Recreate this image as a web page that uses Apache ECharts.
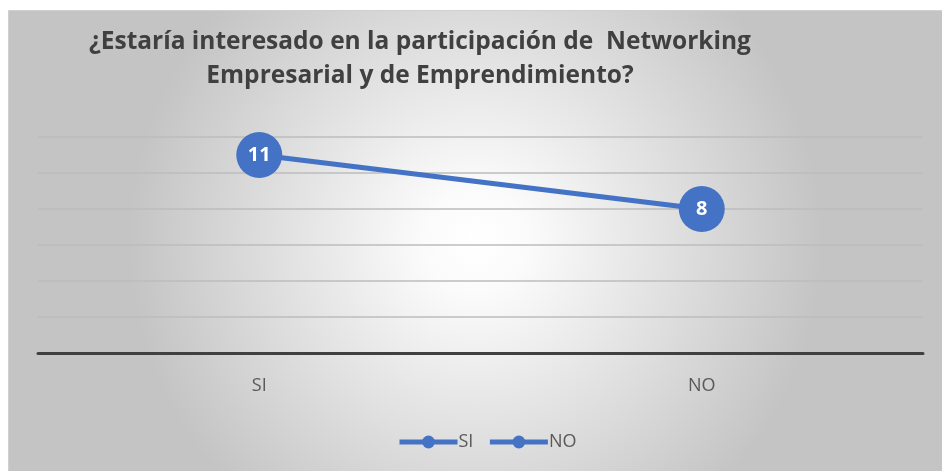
<!DOCTYPE html>
<html>
<head>
<meta charset="utf-8">
<script src="https://cdn.jsdelivr.net/npm/echarts@6/dist/echarts.min.js"></script>
<style>
	html, body { margin: 0; padding: 0; background: #fff; }
	#chart { width: 942px; height: 471px; }
</style>
</head>
<body>
<div id="chart"></div>
<script>
// data
let categories = ["SI", "NO"];
let answers = [11, 8];
let legendNames = ["SI", "NO"];
let titleText = "¿Estaría interesado en la participación de  Networking\nEmpresarial y de Emprendimiento?";

let blue = "#4472C4";
let font = "'Open Sans', sans-serif";

let chart = echarts.init(document.getElementById("chart"));
chart.setOption({
	animation: false,
	graphic: [
		{
			type: "rect",
			left: 8,
			top: 10,
			z: -10,
			silent: true,
			shape: { width: 934, height: 461 },
			style: {
				fill: {
					type: "radial",
					x: 0.5,
					y: 0.5,
					r: 0.75,
					colorStops: [
						{ offset: 0, color: "#ffffff" },
						{ offset: 0.15, color: "#fbfbfb" },
						{ offset: 1, color: "#c4c4c4" },
					],
				},
				stroke: "#d0d0d0",
			},
		},
	],
	title: {
		text: titleText,
		left: 415,
		top: 20,
		textAlign: "center",
		textStyle: {
			fontFamily: font,
			fontSize: 24.5,
			fontWeight: "bold",
			color: "#404040",
			lineHeight: 34,
		},
	},
	grid: {
		left: 38,
		right: 19,
		top: 137,
		bottom: 118,
	},
	legend: {
		data: legendNames,
		left: 392,
		top: 428,
		itemWidth: 58,
		itemHeight: 16,
		itemGap: 14,
		lineStyle: { width: 5 },
		textStyle: {
			fontFamily: font,
			fontSize: 18,
			color: "#595959",
			padding: [0, 0, 0, -4],
		},
	},
	xAxis: {
		type: "category",
		data: categories,
		axisTick: { show: false },
		axisLine: { lineStyle: { color: "#404040", width: 3 } },
		axisLabel: {
			fontFamily: font,
			fontSize: 18,
			color: "#595959",
			margin: 24,
		},
	},
	yAxis: {
		type: "value",
		min: 0,
		max: 12,
		interval: 2,
		axisLabel: { show: false },
		axisLine: { show: false },
		axisTick: { show: false },
		splitLine: { lineStyle: { color: "#bdbdbd", width: 1.5 } },
	},
	series: [
		{
			name: "SI",
			type: "line",
			data: answers,
			symbol: "circle",
			symbolSize: 46,
			lineStyle: { color: blue, width: 5 },
			itemStyle: { color: blue },
			label: {
				show: true,
				position: "inside",
				color: "#fff",
				fontFamily: font,
				fontWeight: "bold",
				fontSize: 20,
			},
		},
		{
			name: "NO",
			type: "line",
			data: [],
			symbol: "circle",
			lineStyle: { color: blue, width: 5 },
			itemStyle: { color: blue },
		},
	],
});
</script>
</body>
</html>
